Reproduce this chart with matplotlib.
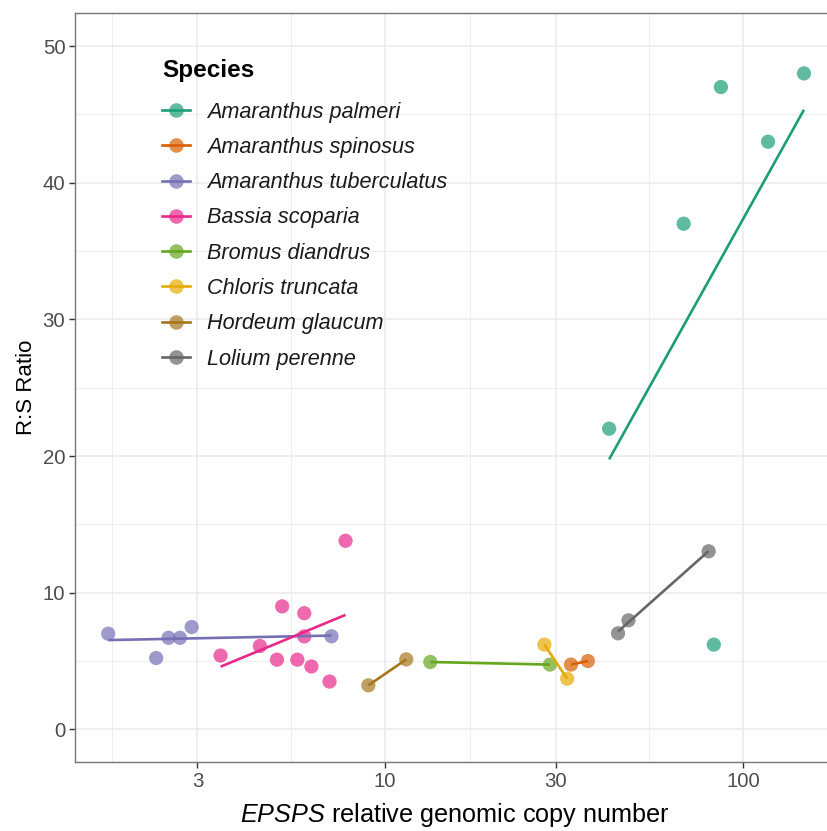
import numpy as np
import matplotlib
matplotlib.use("Agg")
import matplotlib.pyplot as plt
from matplotlib.lines import Line2D
from matplotlib.colors import to_rgba

plt.rcParams['font.family'] = ['Liberation Sans', 'DejaVu Sans']
plt.rcParams['mathtext.fontset'] = 'custom'
plt.rcParams['mathtext.it'] = 'Liberation Sans:italic'
plt.rcParams['mathtext.rm'] = 'Liberation Sans'

species = ["Amaranthus palmeri", "Amaranthus spinosus", "Amaranthus tuberculatus",
           "Bassia scoparia", "Bromus diandrus", "Chloris truncata",
           "Hordeum glaucum", "Lolium perenne"]
colors = ["#1B9E77", "#D95F02", "#7570B3", "#E7298A", "#66A61E", "#E6AB02", "#A6761D", "#666666"]

copy_number = {
    "Amaranthus palmeri": [42.3, 68.3, 86.8, 117.5, 148.0, 82.9],
    "Amaranthus spinosus": [33.1, 36.9],
    "Amaranthus tuberculatus": [1.69, 2.30, 2.49, 2.68, 2.89, 7.10],
    "Bassia scoparia": [7.77, 5.17, 5.96, 4.48, 3.48, 5.00, 5.70, 5.96, 6.24, 7.01],
    "Bromus diandrus": [13.4, 28.9],
    "Chloris truncata": [27.9, 32.3],
    "Hordeum glaucum": [9.00, 11.48],
    "Lolium perenne": [44.8, 47.9, 80.2],
}
rs_ratio = {
    "Amaranthus palmeri": [22.0, 37.0, 47.0, 43.0, 48.0, 6.2],
    "Amaranthus spinosus": [4.74, 5.0],
    "Amaranthus tuberculatus": [7.0, 5.22, 6.7, 6.7, 7.49, 6.81],
    "Bassia scoparia": [13.8, 9.0, 8.5, 6.1, 5.4, 5.1, 5.1, 6.8, 4.6, 3.5],
    "Bromus diandrus": [4.93, 4.74],
    "Chloris truncata": [6.2, 3.71],
    "Hordeum glaucum": [3.22, 5.12],
    "Lolium perenne": [7.03, 7.98, 13.03],
}

x_major = [3, 10, 30, 100]
x_minor = [np.sqrt(3), np.sqrt(30), np.sqrt(300), np.sqrt(3000), np.sqrt(30000)]
y_major = [0, 10, 20, 30, 40, 50]
y_minor = [5, 15, 25, 35, 45]

fig = plt.figure(figsize=(8.27, 8.31), dpi=100)
ax = fig.add_axes([75/827, (831-762.3)/831, (827-75)/827 + 0.01, (762.3-12.7)/831])
ax.set_xscale('log')
ax.set_xlim(1.365, 181)
ax.set_ylim(-2.41, 52.44)

# grid
for v in x_minor:
    ax.axvline(v, color='#EBEBEB', lw=0.6, zorder=0)
for v in y_minor:
    ax.axhline(v, color='#EBEBEB', lw=0.6, zorder=0)
for v in x_major:
    ax.axvline(v, color='#EBEBEB', lw=1.1, zorder=0)
for v in y_major:
    ax.axhline(v, color='#EBEBEB', lw=1.1, zorder=0)

handles = []
for sp, c in zip(species, colors):
    x = np.array(copy_number[sp])
    y = np.array(rs_ratio[sp])
    ax.scatter(x, y, s=105, color=c, alpha=0.7, edgecolors='none', zorder=2)
for sp, c in zip(species, colors):
    x = np.array(copy_number[sp])
    y = np.array(rs_ratio[sp])
    b, a = np.polyfit(np.log10(x), y, 1)
    xs = np.array([x.min(), x.max()])
    ax.plot(xs, a + b*np.log10(xs), color=c, lw=1.9, zorder=3, solid_capstyle='butt')
    handles.append(Line2D([0], [0], color=c, lw=1.9, marker='o', markersize=10.5,
                          markerfacecolor=to_rgba(c, 0.7), markeredgecolor='none'))

ax.set_xticks(x_major)
ax.set_xticklabels([str(v) for v in x_major])
ax.xaxis.set_minor_locator(matplotlib.ticker.NullLocator())
ax.set_yticks(y_major)
ax.tick_params(axis='both', which='major', length=4, width=1, color='#333333',
               labelcolor='#4D4D4D', labelsize=14.7, pad=3)
for s in ['top', 'bottom', 'left', 'right']:
    ax.spines[s].set_color('#777777')
    ax.spines[s].set_linewidth(1.0)
ax.spines['right'].set_visible(False)

ax.set_ylabel('R:S Ratio', fontsize=16, color='black', labelpad=4)
ax.set_xlabel(r'$\mathit{EPSPS}$ relative genomic copy number', fontsize=18.2, color='black', labelpad=7)

leg = ax.legend(handles, species, loc='upper left', bbox_to_anchor=(86/752, 1 - 46/750),
                frameon=False, title='Species', alignment='left',
                prop={'style': 'italic', 'size': 15.6}, title_fontproperties={'weight': 'bold', 'size': 17.5},
                handlelength=1.3, handletextpad=0.77, labelspacing=0.66, borderaxespad=0, borderpad=0)
leg._legend_box.sep = leg._legend_box.sep + 4.0
for t in leg.get_texts():
    t.set_color('#1A1A1A')

fig.savefig('out.png', dpi=100)
